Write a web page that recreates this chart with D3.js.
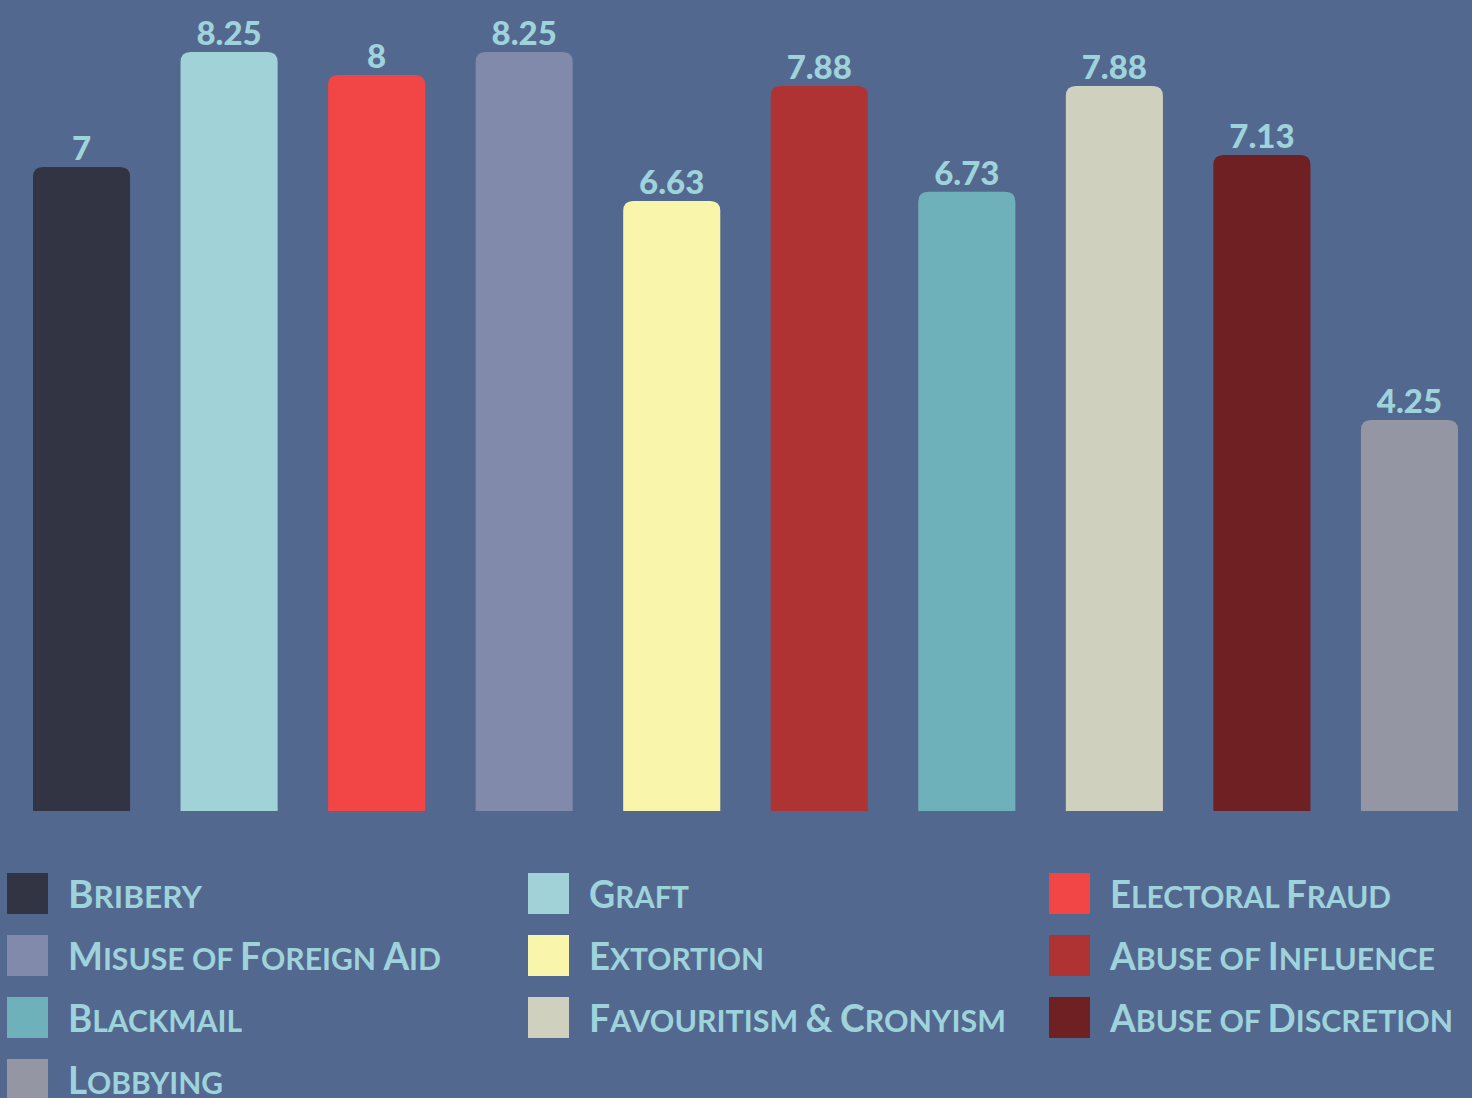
<!DOCTYPE html>
<html><head><meta charset="utf-8">
<script src="https://cdn.jsdelivr.net/npm/d3@7"></script>
<style>
html,body{margin:0;padding:0;background:#53688f;}
svg{display:block;}
</style></head>
<body>
<svg id="chart" width="1472" height="1098"></svg>
<script>
const categories = ["Bribery","Graft","Electoral Fraud","Misuse of Foreign Aid","Extortion","Abuse of Influence","Blackmail","Favouritism & Cronyism","Abuse of Discretion","Lobbying"];
const values = [7, 8.25, 8, 8.25, 6.63, 7.88, 6.73, 7.88, 7.13, 4.25];
const valueLabels = ["7","8.25","8","8.25","6.63","7.88","6.73","7.88","7.13","4.25"];
const colors = ["#323443","#a1d2d8","#f24546","#818aab","#f9f6ab","#b03333","#6eb1ba","#d0d0bf","#6e2023","#9497a3"];
const legendWidths = [134, 100, 281, 373, 175, 325, 174, 417, 343, 155];

const textColor = "#9fd3db";
const svg = d3.select("#chart");
svg.append("rect").attr("width",1472).attr("height",1098).attr("fill","#53688f");

const x = d3.scaleBand().domain(categories).range([33,1458]).paddingInner(0.342).paddingOuter(0);
const y = d3.scaleLinear().domain([0,8.25]).range([811,52]);
const r = 10;

function topRounded(x0, y0, w, h, r){
  return `M${x0},${y0+h}V${y0+r}Q${x0},${y0} ${x0+r},${y0}H${x0+w-r}Q${x0+w},${y0} ${x0+w},${y0+r}V${y0+h}Z`;
}

svg.selectAll("path.bar").data(categories).join("path").attr("class","bar")
  .attr("d",(d,i)=>topRounded(x(d), y(values[i]), x.bandwidth(), y(0)-y(values[i]), r))
  .attr("fill",(d,i)=>colors[i]);

svg.selectAll("text.val").data(categories).join("text").attr("class","val")
  .attr("x",d=>x(d)+x.bandwidth()/2)
  .attr("y",(d,i)=>y(values[i])-7)
  .attr("text-anchor","middle")
  .attr("font-family","Lato, 'Open Sans', sans-serif")
  .attr("font-weight","900")
  .attr("font-size",33)
  .attr("fill",textColor)
  .text((d,i)=>valueLabels[i]);

const lg = svg.append("g");
categories.forEach((c,i)=>{
  const col = i%3, row = Math.floor(i/3);
  const gx = 7 + col*521, gy = 873 + row*62;
  lg.append("rect").attr("x",gx).attr("y",gy).attr("width",41).attr("height",41).attr("fill",colors[i]);
  const t = lg.append("text").attr("x",gx+61).attr("y",gy+35)
    .attr("font-family","Lato, 'Open Sans', sans-serif")
    .attr("font-weight","bold")
    .attr("fill",textColor);
  // manual small caps
  const chars = Array.from(c);
  let runs = [];
  chars.forEach(ch=>{
    const big = ch !== ch.toLowerCase() || ch === "&";
    const last = runs[runs.length-1];
    if (last && last.big === big) last.s += ch; else runs.push({big, s: ch});
  });
  runs.forEach(rn=>{
    t.append("tspan").attr("font-size", rn.big ? 38 : 31).text(rn.big ? rn.s : rn.s.toUpperCase());
  });
  t.attr("textLength",legendWidths[i]).attr("lengthAdjust","spacingAndGlyphs");
});
</script>
</body></html>
